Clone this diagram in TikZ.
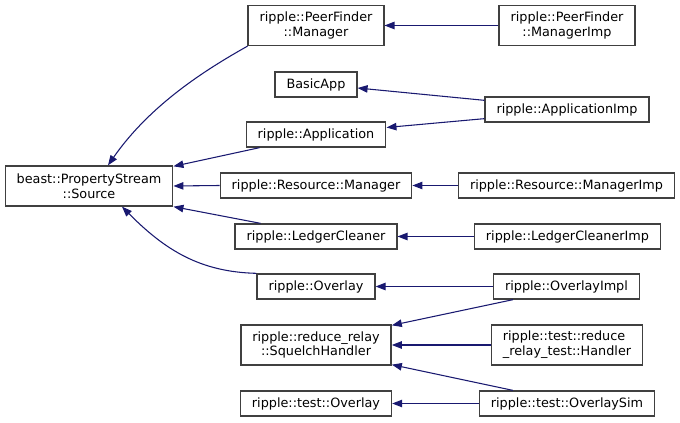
\documentclass[tikz,border=0pt]{standalone}
\usepackage{fontspec}
\setmainfont{DejaVu Sans}
\usetikzlibrary{arrows.meta,calc}
\definecolor{edgeblue}{HTML}{191970}
\definecolor{boxgray}{HTML}{404040}
\tikzset{
  cls/.style={draw=boxgray,fill=white,line width=1pt,inner xsep=8.6pt,inner ysep=3pt,
    minimum height=18.75pt,font=\fontsize{9.6}{11.2}\selectfont,align=center},
  cls2/.style={cls,minimum height=30pt},
  inh/.style={draw=edgeblue,line width=0.8pt,-{Triangle[length=7.5pt,width=5.6pt]}}
}
\begin{document}
\begin{tikzpicture}[x=0.75pt,y=-0.75pt]
\useasboundingbox (0,0) rectangle (680,423);
% base class
\node[cls2] (src) at (89,186) {beast::PropertyStream\\::Source};
% direct children
\node[cls2] (pfmgr) at (316,25.5) {ripple::PeerFinder\\::Manager};
\node[cls] (basicapp) at (316,84.5) {BasicApp};
\node[cls] (app) at (316,134.5) {ripple::Application};
\node[cls] (resmgr) at (316,185.5) {ripple::Resource::Manager};
\node[cls] (ledger) at (316,236.5) {ripple::LedgerCleaner};
\node[cls] (ovl) at (316,286.5) {ripple::Overlay};
\node[cls2] (squelch) at (316,345) {ripple::reduce\_relay\\::SquelchHandler};
\node[cls] (testovl) at (316,403.5) {ripple::test::Overlay};
% implementations
\node[cls2] (pfimp) at (567,25.5) {ripple::PeerFinder\\::ManagerImp};
\node[cls] (appimp) at (567,109.5) {ripple::ApplicationImp};
\node[cls] (resimp) at (566.5,185.5) {ripple::Resource::ManagerImp};
\node[cls] (ledgerimp) at (567.5,236.5) {ripple::LedgerCleanerImp};
\node[cls] (ovlimpl) at (566.5,286.5) {ripple::OverlayImpl};
\node[cls2,align=left] (rrhandler) at (567,345) {ripple::test::reduce\\\_relay\_test::Handler};
\node[cls] (ovlsim) at (567,403.5) {ripple::test::OverlaySim};

% inheritance edges
\draw[inh] (pfmgr.south west) .. controls (205,70) and (150,105) .. ($(src.north)+(19,0)$);
\draw[inh] ($(app.south west)+(14,0)$) -- ($(src.north east)+(0,1)$);
\draw[inh] (resmgr.west) -- (src.east);
\draw[inh] ($(ledger.north west)+(26,0)$) -- (src.south east);
\draw[inh] (ovl.north west) .. controls (200,272) and (165,250) .. ($(src.south)+(33,0)$);
\draw[inh] (pfimp.west) -- (pfmgr.east);
\draw[inh] ($(appimp.north west)+(0,4)$) -- ($(basicapp.east)+(0,3.5)$);
\draw[inh] ($(appimp.south west)+(0,-4)$) -- ($(app.east)+(0,-7)$);
\draw[inh] (resimp.west) -- (resmgr.east);
\draw[inh] (ledgerimp.west) -- (ledger.east);
\draw[inh] (ovlimpl.west) -- (ovl.east);
\draw[inh] ($(ovlimpl.south west)+(20,0)$) -- ($(squelch.north east)+(0,1)$);
\draw[inh] (rrhandler.west) -- (squelch.east);
\draw[inh] ($(ovlsim.north west)+(34,0)$) -- ($(squelch.south east)+(0,-1)$);
\draw[inh] (ovlsim.west) -- (testovl.east);
\end{tikzpicture}
\end{document}
